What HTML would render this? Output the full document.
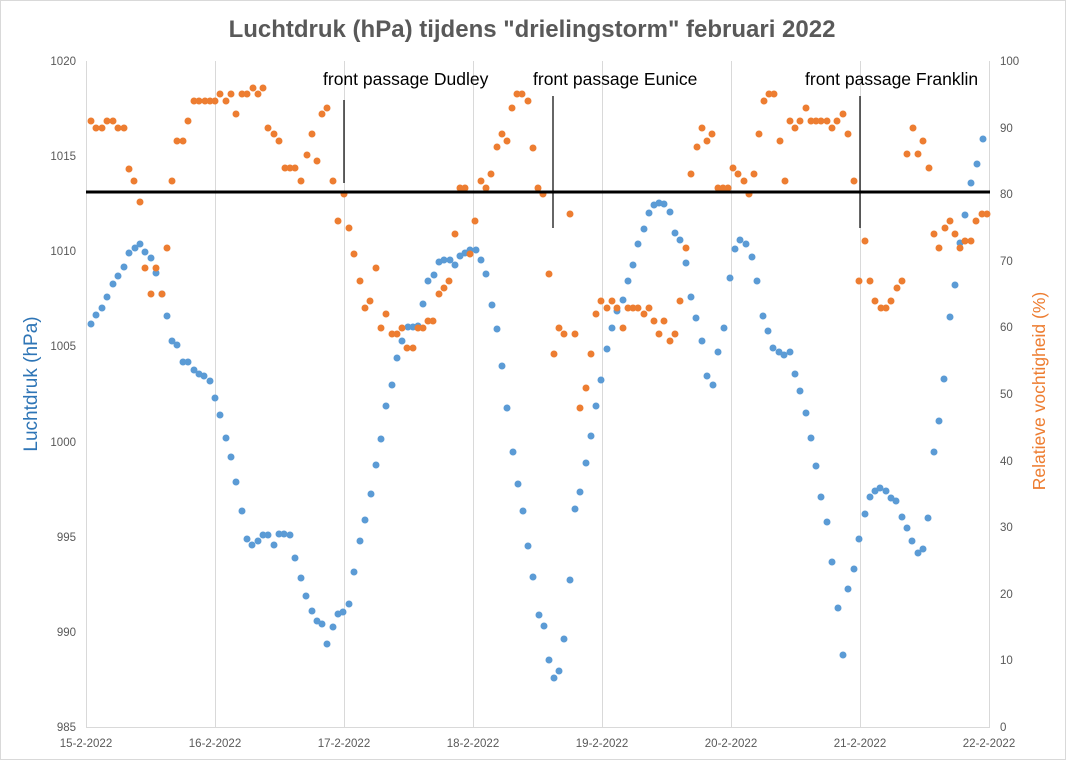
<!DOCTYPE html>
<html><head><meta charset="utf-8"><style>
html,body{margin:0;padding:0;background:#fff;}
svg{display:block;font-family:"Liberation Sans",Arial,sans-serif;}
</style></head><body>
<svg width="1066" height="760" viewBox="0 0 1066 760" xmlns="http://www.w3.org/2000/svg">
<rect x="0.5" y="0.5" width="1065" height="759" fill="#fff" stroke="#d9d9d9"/>
<text x="532" y="37" text-anchor="middle" font-size="24" font-weight="bold" fill="#595959">Luchtdruk (hPa) tijdens "drielingstorm" februari 2022</text>
<g stroke="#d9d9d9" stroke-width="1">
<line x1="86.5" y1="61" x2="86.5" y2="727"/><line x1="215.5" y1="61" x2="215.5" y2="727"/><line x1="344.5" y1="61" x2="344.5" y2="727"/><line x1="473.5" y1="61" x2="473.5" y2="727"/><line x1="602.5" y1="61" x2="602.5" y2="727"/><line x1="731.5" y1="61" x2="731.5" y2="727"/><line x1="860.5" y1="61" x2="860.5" y2="727"/><line x1="989.5" y1="61" x2="989.5" y2="727"/>
<line x1="86" y1="727.5" x2="990" y2="727.5"/>
</g>
<g font-size="11.5" fill="#595959" text-anchor="end">
<text x="76" y="65">1020</text><text x="76" y="160">1015</text><text x="76" y="255">1010</text><text x="76" y="350">1005</text><text x="76" y="446">1000</text><text x="76" y="541">995</text><text x="76" y="636">990</text><text x="76" y="731">985</text>
</g>
<g font-size="11.5" fill="#595959" text-anchor="start">
<text x="1000" y="65">100</text><text x="1000" y="132">90</text><text x="1000" y="198">80</text><text x="1000" y="265">70</text><text x="1000" y="331">60</text><text x="1000" y="398">50</text><text x="1000" y="465">40</text><text x="1000" y="531">30</text><text x="1000" y="598">20</text><text x="1000" y="664">10</text><text x="1000" y="731">0</text>
</g>
<g font-size="11.5" fill="#595959" text-anchor="middle">
<text x="86" y="747">15-2-2022</text><text x="215" y="747">16-2-2022</text><text x="344" y="747">17-2-2022</text><text x="473" y="747">18-2-2022</text><text x="602" y="747">19-2-2022</text><text x="731" y="747">20-2-2022</text><text x="860" y="747">21-2-2022</text><text x="989" y="747">22-2-2022</text>
</g>
<text transform="translate(37,384) rotate(-90)" text-anchor="middle" font-size="19" fill="#2e75b6">Luchtdruk (hPa)</text>
<text transform="translate(1045,391) rotate(-90)" text-anchor="middle" font-size="17.5" fill="#ed7d31">Relatieve vochtigheid (%)</text>
<path fill="none" stroke="#5b9bd5" stroke-width="7" stroke-linecap="round" d="M91 324h0M96 315h0M102 308h0M107 297h0M113 284h0M118 276h0M124 267h0M129 253h0M135 248h0M140 244h0M145 252h0M151 258h0M156 273h0M162 294h0M167 316h0M172 341h0M177 345h0M183 362h0M188 362h0M194 370h0M199 374h0M204 376h0M210 381h0M215 398h0M220 415h0M226 438h0M231 457h0M236 482h0M242 511h0M247 539h0M252 545h0M258 541h0M263 535h0M268 535h0M274 545h0M279 534h0M284 534h0M290 535h0M295 558h0M301 578h0M306 596h0M312 611h0M317 621h0M322 624h0M327 644h0M333 627h0M338 614h0M343 612h0M349 604h0M354 572h0M360 541h0M365 520h0M371 494h0M376 465h0M381 439h0M386 406h0M392 385h0M397 358h0M402 341h0M408 327h0M413 327h0M418 326h0M423 304h0M428 281h0M434 275h0M439 262h0M444 260h0M450 260h0M455 265h0M460 256h0M465 253h0M470 250h0M476 250h0M481 260h0M486 274h0M492 305h0M497 329h0M502 366h0M507 408h0M513 452h0M518 484h0M523 511h0M528 546h0M533 577h0M539 615h0M544 626h0M549 660h0M554 678h0M559 671h0M564 639h0M570 580h0M575 509h0M580 492h0M586 463h0M591 436h0M596 406h0M601 380h0M607 349h0M612 328h0M617 311h0M623 300h0M628 281h0M633 265h0M638 244h0M644 229h0M649 213h0M654 205h0M659 203h0M664 204h0M670 212h0M675 233h0M680 240h0M686 263h0M691 297h0M696 318h0M702 341h0M707 376h0M713 385h0M718 352h0M724 328h0M730 278h0M735 249h0M740 240h0M746 244h0M752 257h0M757 281h0M763 316h0M768 331h0M773 348h0M779 352h0M784 355h0M790 352h0M795 374h0M800 391h0M806 413h0M811 438h0M816 466h0M821 497h0M827 522h0M832 562h0M838 608h0M843 655h0M848 589h0M854 569h0M859 539h0M865 514h0M870 497h0M875 491h0M880 488h0M886 491h0M891 498h0M896 501h0M902 517h0M907 528h0M912 541h0M918 553h0M923 549h0M928 518h0M934 452h0M939 421h0M944 379h0M950 317h0M955 285h0M960 243h0M965 215h0M971 183h0M977 164h0M983 139h0"/>
<path fill="none" stroke="#ed7d31" stroke-width="7" stroke-linecap="round" d="M91 121h0M96 128h0M102 128h0M107 121h0M113 121h0M118 128h0M124 128h0M129 169h0M134 181h0M140 202h0M145 268h0M151 294h0M156 268h0M162 294h0M167 248h0M172 181h0M177 141h0M183 141h0M188 121h0M194 101h0M199 101h0M205 101h0M210 101h0M215 101h0M220 94h0M226 101h0M231 94h0M236 114h0M242 94h0M247 94h0M253 88h0M258 94h0M263 88h0M268 128h0M274 134h0M279 141h0M285 168h0M290 168h0M295 168h0M301 181h0M307 155h0M312 134h0M317 161h0M322 114h0M327 108h0M333 181h0M338 221h0M344 194h0M349 228h0M354 254h0M360 281h0M365 308h0M370 301h0M376 268h0M381 328h0M386 314h0M392 334h0M397 334h0M402 328h0M407 348h0M413 348h0M418 328h0M423 328h0M428 321h0M433 321h0M439 294h0M444 288h0M449 281h0M455 234h0M460 188h0M465 188h0M470 254h0M475 221h0M481 181h0M486 188h0M491 174h0M497 147h0M502 134h0M507 141h0M512 108h0M517 94h0M522 94h0M528 101h0M533 148h0M538 188h0M543 194h0M549 274h0M554 354h0M559 328h0M564 334h0M570 214h0M575 334h0M580 408h0M586 388h0M591 354h0M596 314h0M601 301h0M607 308h0M612 301h0M617 308h0M623 328h0M628 308h0M633 308h0M638 308h0M644 314h0M649 308h0M654 321h0M659 334h0M664 321h0M670 341h0M675 334h0M680 301h0M686 248h0M691 174h0M697 147h0M702 128h0M707 141h0M712 134h0M718 188h0M723 188h0M728 188h0M733 168h0M738 174h0M744 181h0M749 194h0M754 174h0M759 134h0M764 101h0M769 94h0M774 94h0M780 141h0M785 181h0M790 121h0M795 128h0M800 121h0M806 108h0M811 121h0M816 121h0M821 121h0M827 121h0M832 128h0M837 121h0M843 114h0M848 134h0M854 181h0M859 281h0M865 241h0M870 281h0M875 301h0M881 308h0M886 308h0M891 301h0M897 288h0M902 281h0M907 154h0M913 128h0M918 154h0M923 141h0M929 168h0M934 234h0M939 248h0M945 228h0M950 221h0M955 234h0M960 248h0M965 241h0M971 241h0M976 221h0M982 214h0M987 214h0"/>
<line x1="86" y1="192" x2="990" y2="192" stroke="#000" stroke-width="3"/>
<g stroke="#000" stroke-width="1.2">
<line x1="344" y1="100" x2="344" y2="183"/><line x1="553" y1="96" x2="553" y2="228"/><line x1="860" y1="96" x2="860" y2="228"/>
</g>
<g font-size="17.5" fill="#000">
<text x="323" y="85">front passage Dudley</text><text x="533" y="85">front passage Eunice</text><text x="805" y="85">front passage Franklin</text>
</g>
</svg>
</body></html>
